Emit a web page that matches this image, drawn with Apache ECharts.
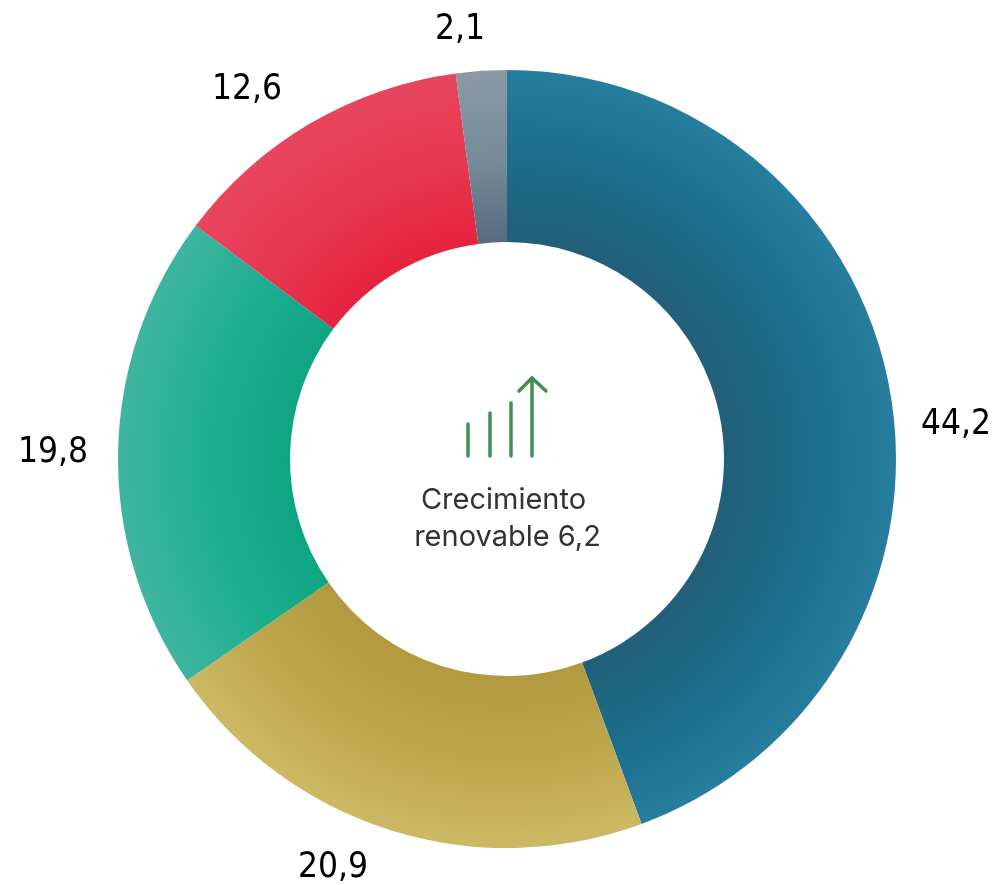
<!DOCTYPE html>
<html><head><meta charset="utf-8">
<style>html,body{margin:0;padding:0;background:#fff}#c{width:998px;height:885px}</style>
<script src="https://cdn.jsdelivr.net/npm/echarts@6/dist/echarts.min.js"></script>
</head><body><div id="c"></div>
<script>
const categories = ['A','B','C','D','E'];
const values = [44.2, 20.9, 19.8, 12.6, 2.1];
const innerStops = ['#225f79','#b39a41','#0ea583','#e6233f','#566c7e'];
const midStops   = ['#1a6d8b','#bba44b','#1cae8f','#e73650','#74899a'];
const outerStops = ['#277d9d','#cdb964','#3fb5a0','#e8455f','#8a9aa6'];
const labelSpots = [[956,425],[333,868],[53,453],[247,90],[460,30]];
const cx=507, cy=459, R=389;
const chart = echarts.init(document.getElementById('c'));
const grad=(i)=>({type:'radial',x:cx,y:cy,r:R,global:true,colorStops:[
 {offset:0,color:innerStops[i]},{offset:0.56,color:innerStops[i]},{offset:0.76,color:midStops[i]},{offset:1,color:outerStops[i]}]});
chart.setOption({
 animation:false,
 series:[{type:'pie',center:[cx,cy],radius:[217,R],startAngle:90,clockwise:true,avoidLabelOverlap:false,
  data:categories.map((n,i)=>({name:n,value:values[i],itemStyle:{color:grad(i)}})),
  label:{show:true,position:'outside',overflow:'none',formatter:p=>String(p.value).replace('.',','),
   fontFamily:'DejaVu Sans Condensed, DejaVu Sans',fontSize:35,color:'#000'},
  labelLine:{show:false},
  labelLayout:p=>{const s=labelSpots[p.dataIndex];return {x:s[0],y:s[1],align:'center',verticalAlign:'middle'};},
  emphasis:{disabled:true}
 }],
 graphic:[
  ...[[468,424],[490,413],[511,403],[532,378]].map(([x,y])=>({type:'line',shape:{x1:x,y1:456,x2:x,y2:y},style:{stroke:'#3d9150',lineWidth:3.5,lineCap:'round'}})),
  {type:'polyline',shape:{points:[[519,391],[532,378],[546,391]]},style:{stroke:'#3d9150',lineWidth:3.5,fill:null,lineCap:'round'}},
  {type:'text',style:{x:503.5,y:500,text:'Crecimiento',font:'29px Inter',fill:'#333',align:'center',verticalAlign:'middle'}},
  {type:'text',style:{x:507.5,y:537,text:'renovable 6,2',font:'29px Inter',fill:'#333',align:'center',verticalAlign:'middle'}}
 ]
});
</script></body></html>
